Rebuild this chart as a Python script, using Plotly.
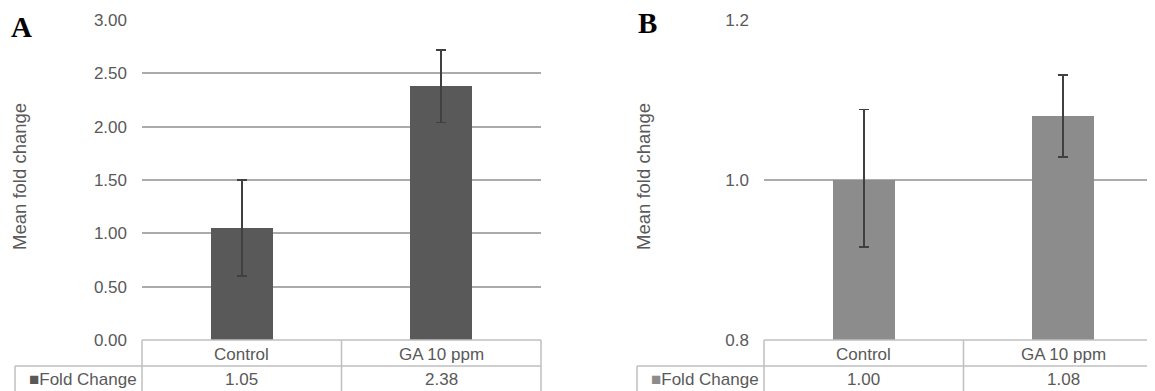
import plotly.graph_objects as go

# ---------------- data ----------------
categories = ["Control", "GA 10 ppm"]
series_name = "Fold Change"

a_values = [1.05, 2.38]
a_err_plus = [0.45, 0.34]
a_err_minus = [0.45, 0.34]

b_values = [1.00, 1.08]
b_err_plus = [0.088, 0.051]
b_err_minus = [0.084, 0.051]

a_tickvals = [0.0, 0.5, 1.0, 1.5, 2.0, 2.5, 3.0]
a_ticktext = ["0.00", "0.50", "1.00", "1.50", "2.00", "2.50", "3.00"]
b_tickvals = [0.8, 1.0, 1.2]
b_ticktext = ["0.8", "1.0", "1.2"]

y_title = "Mean fold change"
panel_labels = ["A", "B"]

# ---------------- style ----------------
W, H = 1155, 391
OFF = 8  # default page body margin
FONT = "Liberation Sans, Arial, sans-serif"
TXT = "#595959"
GRID = "#ababab"
TABLE = "#bfbfbf"
A_COLOR = "#595959"
B_COLOR = "#8c8c8c"
ERR = "#404040"


def px(x):
    return (x - OFF) / W


def py(y):
    return (H - (y - OFF)) / H


# pixel layout (target page pixels)
A_left, A_mid, A_right = 142, 341.5, 541
B_left, B_mid, B_right = 764, 963.5, 1163
plot_top, table_top, row2_top = 20, 340, 366
A_leg_left, B_leg_left = 15, 637

fig = go.Figure()

fig.add_trace(go.Bar(
    x=categories, y=a_values, width=0.31, marker=dict(color=A_COLOR, line=dict(width=0)),
    error_y=dict(type="data", symmetric=False, array=a_err_plus, arrayminus=a_err_minus,
                 color=ERR, thickness=1.7, width=5),
    xaxis="x", yaxis="y", name=series_name, showlegend=False,
))
fig.add_trace(go.Bar(
    x=categories, y=b_values, width=0.31, marker=dict(color=B_COLOR, line=dict(width=0)),
    error_y=dict(type="data", symmetric=False, array=b_err_plus, arrayminus=b_err_minus,
                 color=ERR, thickness=1.7, width=5),
    xaxis="x2", yaxis="y2", name=series_name, showlegend=False,
))

b_cat_w = (B_right - B_left) / 2.0
b_range_max = 1.5 - (B_right - (W + OFF)) / b_cat_w

common_x = dict(showgrid=False, zeroline=False, showticklabels=False, ticks="",
                showline=False, fixedrange=True, automargin=False)
common_y = dict(showgrid=True, gridcolor=GRID, gridwidth=1.5, zeroline=False,
                showline=False, ticks="", ticklabelstandoff=14, automargin=False,
                tickfont=dict(family=FONT, size=17, color=TXT))

fig.update_layout(
    width=W, height=H, margin=dict(l=0, r=0, t=0, b=0, autoexpand=False),
    paper_bgcolor="white", plot_bgcolor="white",
    showlegend=False, bargap=0,
    xaxis=dict(domain=[px(A_left), px(A_right)], range=[-0.5, 1.5], anchor="y", **common_x),
    yaxis=dict(domain=[py(table_top), py(plot_top)], range=[0, 3], anchor="x",
               tickvals=a_tickvals, ticktext=a_ticktext, **common_y),
    xaxis2=dict(domain=[px(B_left), 1.0], range=[-0.5, b_range_max], anchor="y2", **common_x),
    yaxis2=dict(domain=[py(table_top), py(plot_top)], range=[0.8, 1.2], anchor="x2",
                tickvals=b_tickvals, ticktext=b_ticktext, **common_y),
)

shapes = []
annotations = []


def hline(x0, x1, y):
    shapes.append(dict(type="line", xref="paper", yref="paper", x0=px(x0), x1=px(x1),
                       y0=py(y), y1=py(y), line=dict(color=TABLE, width=1.5)))


def vline(x, y0, y1):
    shapes.append(dict(type="line", xref="paper", yref="paper", x0=px(x), x1=px(x),
                       y0=py(y0), y1=py(y1), line=dict(color=TABLE, width=1.5)))


panels = [
    (A_left, A_mid, A_right, A_leg_left, "x", a_values, A_COLOR, panel_labels[0], 21, 27, 19),
    (B_left, B_mid, B_right, B_leg_left, "x2", b_values, B_COLOR, panel_labels[1], 647, 23, 643),
]
for left, mid, right, leg_left, xr, vals, col, lab, lab_x, lab_y, title_x in panels:
    hline(left, right, table_top)
    hline(leg_left, right, row2_top)
    vline(left, table_top, H + OFF + 2)
    vline(mid, table_top, H + OFF + 2)
    vline(right, table_top, H + OFF + 2)
    vline(leg_left, row2_top, H + OFF + 2)
    for cat, v in zip(categories, vals):
        annotations.append(dict(x=cat, xref=xr, y=py((table_top + row2_top) / 2 + 1), yref="paper",
                                text=cat, showarrow=False, xanchor="center", yanchor="middle",
                                font=dict(family=FONT, size=17, color=TXT)))
        annotations.append(dict(x=cat, xref=xr, y=py(row2_top + 13), yref="paper",
                                text=f"{v:.2f}", showarrow=False, xanchor="center", yanchor="middle",
                                font=dict(family=FONT, size=17, color=TXT)))
    annotations.append(dict(x=px(left - 3), xref="paper", y=py(row2_top + 13), yref="paper",
                            text=f"<span style='color:{col};font-size:17px'>■</span>{series_name}",
                            showarrow=False, xanchor="right", yanchor="middle",
                            font=dict(family=FONT, size=17, color=TXT)))
    annotations.append(dict(x=px(lab_x), xref="paper", y=py(lab_y), yref="paper", text=f"<b>{lab}</b>",
                            showarrow=False, xanchor="center", yanchor="middle",
                            font=dict(family="Liberation Serif, Times New Roman, serif", size=29, color="black")))
    annotations.append(dict(x=px(title_x), xref="paper", y=py(177), yref="paper",
                            text=y_title, textangle=-90, showarrow=False,
                            xanchor="center", yanchor="middle",
                            font=dict(family=FONT, size=18.5, color=TXT)))

fig.update_layout(shapes=shapes, annotations=annotations)

fig.write_html("out.html")
